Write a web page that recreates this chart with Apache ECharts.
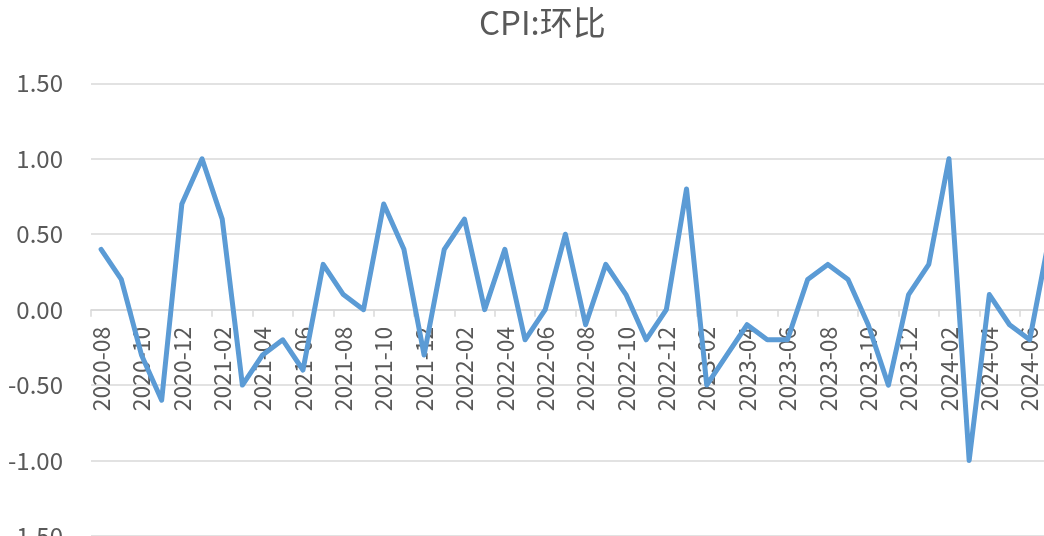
<!DOCTYPE html>
<html>
<head>
<meta charset="utf-8">
<script src="https://cdn.jsdelivr.net/npm/echarts@6/dist/echarts.min.js"></script>
<style>
html,body{margin:0;padding:0;background:#fff;overflow:hidden;}
#chart{width:1044px;height:536px;}
</style>
</head>
<body>
<div id="chart"></div>
<script>
const titleText = 'CPI:环比';
const months = [
  '2020-08','2020-09','2020-10','2020-11','2020-12',
  '2021-01','2021-02','2021-03','2021-04','2021-05','2021-06','2021-07','2021-08','2021-09','2021-10','2021-11','2021-12',
  '2022-01','2022-02','2022-03','2022-04','2022-05','2022-06','2022-07','2022-08','2022-09','2022-10','2022-11','2022-12',
  '2023-01','2023-02','2023-03','2023-04','2023-05','2023-06','2023-07','2023-08','2023-09','2023-10','2023-11','2023-12',
  '2024-01','2024-02','2024-03','2024-04','2024-05','2024-06','2024-07'
];
const cpiMoM = [
  0.4, 0.2, -0.3, -0.6, 0.7,
  1.0, 0.6, -0.5, -0.3, -0.2, -0.4, 0.3, 0.1, 0.0, 0.7, 0.4, -0.3,
  0.4, 0.6, 0.0, 0.4, -0.2, 0.0, 0.5, -0.1, 0.3, 0.1, -0.2, 0.0,
  0.8, -0.5, -0.3, -0.1, -0.2, -0.2, 0.2, 0.3, 0.2, -0.1, -0.5, 0.1,
  0.3, 1.0, -1.0, 0.1, -0.1, -0.2, 0.5
];
const yMin = -1.5, yMax = 1.5, yStep = 0.5;

const H = 536, gridTop = 83.3, gridBottom = 0;
const plotH = H - gridTop - gridBottom;
// distance from bottom edge of grid up to the value-0 line
const zeroOffset = -plotH * (0 - yMin) / (yMax - yMin);

const chart = echarts.init(document.getElementById('chart'), null, {renderer: 'canvas'});
const font = '"Noto Sans CJK SC", "Noto Sans", sans-serif';
chart.setOption({
  animation: false,
  title: {
    text: titleText,
    left: 474,
    top: 1,
    textStyle: {fontFamily: font, fontSize: 33, fontWeight: 'normal', color: '#595959'}
  },
  grid: {left: 91, right: -16, top: gridTop, bottom: gridBottom, containLabel: false, outerBoundsMode: 'none'},
  xAxis: {
    type: 'category',
    data: months,
    position: 'bottom',
    offset: zeroOffset,
    boundaryGap: true,
    axisLine: {onZero: false, lineStyle: {color: '#d9d9d9', width: 1.5}},
    axisTick: {show: true, interval: 1, length: 7, lineStyle: {color: '#d9d9d9', width: 1.5}},
    axisLabel: {interval: 1, rotate: 90, margin: 17, fontFamily: font, fontSize: 23, color: '#595959', hideOverlap: false},
    splitLine: {show: false}
  },
  yAxis: {
    type: 'value',
    min: yMin, max: yMax, interval: yStep,
    axisLine: {show: false},
    axisTick: {show: false},
    axisLabel: {margin: 28, fontFamily: font, fontSize: 24, color: '#595959', formatter: v => v.toFixed(2)},
    splitLine: {lineStyle: {color: '#d9d9d9', width: 1.5}}
  },
  series: [{
    type: 'line',
    data: cpiMoM,
    symbol: 'none',
    lineStyle: {color: '#5B9BD5', width: 5, join: 'round', cap: 'round'},
    itemStyle: {color: '#5B9BD5'}
  }]
});
</script>
</body>
</html>
